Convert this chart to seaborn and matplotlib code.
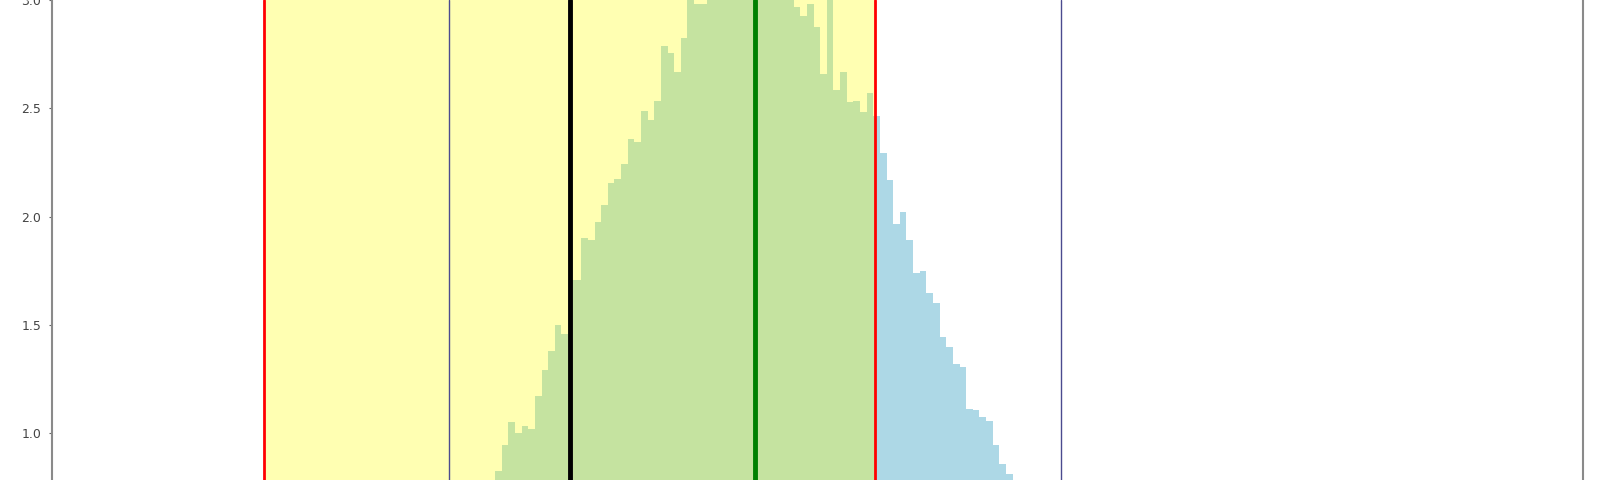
import numpy as np
import pandas as pd
import matplotlib
matplotlib.use("Agg")
import matplotlib.pyplot as plt
import seaborn as sns

# ---- data ----
bin_start = 28.963
bin_width = 0.43343
heights = [
    0.826, 0.945, 1.052, 1.003, 1.032, 1.022, 1.172, 1.294, 1.380, 1.502,
    1.460, 1.710, 1.706, 1.903, 1.891, 1.975, 2.052, 2.155, 2.172, 2.245,
    2.357, 2.344, 2.490, 2.447, 2.533, 2.787, 2.757, 2.667, 2.826, 3.050,
    2.980, 2.980, 3.080, 3.120, 3.060, 3.150, 3.100, 3.180, 3.130, 3.090,
    3.160, 3.110, 3.070, 3.040, 3.020, 2.970, 2.924, 2.983, 2.875, 2.657,
    3.030, 2.586, 2.667, 2.529, 2.533, 2.483, 2.570, 2.467, 2.293, 2.170,
    1.965, 2.021, 1.894, 1.742, 1.749, 1.649, 1.601, 1.444, 1.398, 1.318,
    1.306, 1.114, 1.106, 1.075, 1.057, 0.945, 0.857, 0.814,
]
span_lo, span_hi = 13.87, 53.79      # red lines / yellow band
black_x = 33.83
green_x = 45.94
navy_x = [25.98, 65.94]
y_ticks = [1.0, 1.5, 2.0, 2.5, 3.0]
y_tick_labels = ["1.0", "1.5", "2.0", "2.5", "3.0"]
x_limits = (0, 100)
y_limits = (0.785, 3.0)

sns.set_style("white")
plt.rcParams["font.family"] = ["DejaVu Sans"]

fig = plt.figure(figsize=(16, 4.8), dpi=100)
ax = fig.add_axes([51.7 / 1600, 0.0, 1530.8 / 1600, 1.0])

edges = [float(bin_start + bin_width * i) for i in range(len(heights) + 1)]
centers = [(edges[i] + edges[i + 1]) / 2 for i in range(len(heights))]
df = pd.DataFrame({"x": centers, "h": heights})

sns.histplot(data=df, x="x", weights="h", bins=edges, element="step",
             fill=True, color="lightblue", alpha=1.0, linewidth=0, ax=ax)

ax.axvspan(span_lo, span_hi, color="yellow", alpha=0.3, lw=0)
for xv in navy_x:
    ax.axvline(xv, color="#4b4b8f", lw=1.0, zorder=3)
for xv in (span_lo, span_hi):
    ax.axvline(xv, color="red", lw=2.0, zorder=3)
ax.axvline(black_x, color="black", lw=3.5, zorder=4)
ax.axvline(green_x, color="green", lw=3.5, zorder=4)

ax.set_xlim(*x_limits)
ax.set_ylim(*y_limits)
ax.set_xlabel("")
ax.set_ylabel("")
ax.set_xticks([])
ax.set_yticks(y_ticks)
ax.set_yticklabels(y_tick_labels)
ax.tick_params(axis="y", left=True, length=2.5, width=0.8, pad=5,
               colors="#666666", labelcolor="#444444", labelsize=9)

for side in ("top", "bottom"):
    ax.spines[side].set_visible(False)
for side in ("left", "right"):
    ax.spines[side].set_visible(True)
    ax.spines[side].set_color("#8a8a8a")
    ax.spines[side].set_linewidth(1.5)

fig.savefig("out.png", dpi=100)
